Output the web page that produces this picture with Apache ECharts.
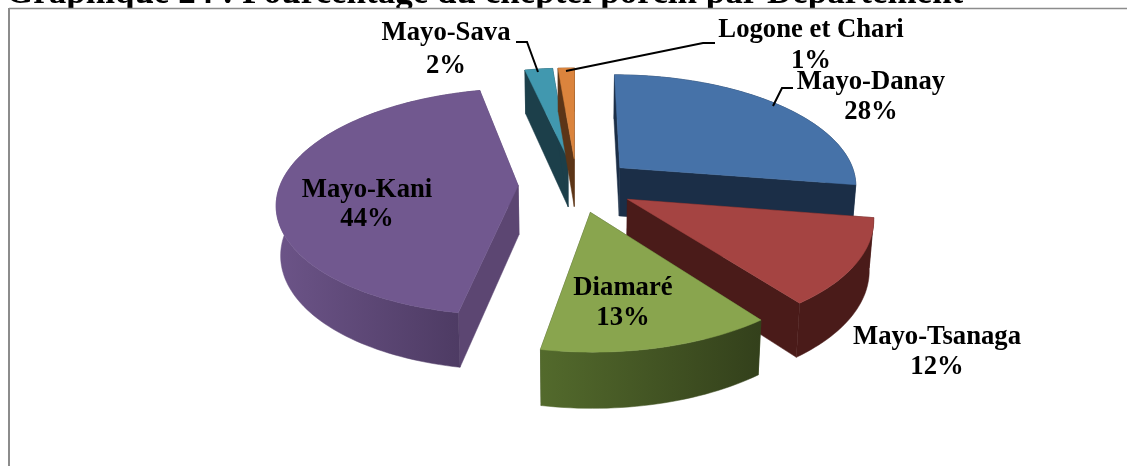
<!DOCTYPE html>
<html><head><meta charset="utf-8">
<style>html,body{margin:0;padding:0;background:#fff}#c{width:1127px;height:466px}</style>
<script src="https://cdn.jsdelivr.net/npm/echarts@6/dist/echarts.min.js"></script></head>
<body><div id="c"></div>
<script>
const titleText = 'Graphique 24 : Pourcentage du cheptel porcin par Département';
const categories = ['Mayo-Danay','Mayo-Tsanaga','Diamaré','Mayo-Kani','Mayo-Sava','Logone et Chari'];
const values = [27.5,12.2,13.2,43.6,2.2,1.3];
const topColors = ['#4672a8','#a54442','#89a54e','#71588f','#4198af','#db843d'];
const wallColors = ['#1b2e47','#4a1b19','#3a4a1e','#5c4672','#1c3f4a','#5c3517'];
const arcGradFrom = ['#1b2e47','#4a1b19','#536a2c','#6c5488','#1c3f4a','#5c3517'];
const arcGradTo   = ['#1b2e47','#4a1b19','#33401b','#4a385f','#1c3f4a','#5c3517'];
const drawOrder = [0,4,5,3,1,2];
const labelPos = [[871,82,112],[937,337,367],[623,288,318],[367,190,219],[446,33,66],[811,30,61]];
const leaders = [
  [[793,88],[782,88],[773,106]],
  null,null,null,
  [[516,42],[527,42],[538,72]],
  [[715,43],[703,43],[566,71]]
];
const G = {cx:576.5,cy:185,R:238,Ry:110.9,k:0.144,explode:0.245,H:49,startDeg:-90,fontSize:26.7};
const total = values.reduce((a,b)=>a+b,0);
const spans = []; { let a = G.startDeg; values.forEach(v=>{const d=v/total*360; spans.push([a,a+d]); a+=d;}); }
function proj(X,Y,down){
  const p = 1/(1-G.k*Y);
  let x = G.R*X*p, y = G.Ry*Y*p;
  if(down){ x*=0.985; y += G.H*Math.pow(p,0.7); }
  return [G.cx+x, G.cy+y];
}
function renderItem(params, api){
  const i = drawOrder[params.dataIndex];
  const [a0,a1] = spans[i];
  const rad = d=>d*Math.PI/180;
  const mid = rad((a0+a1)/2);
  const ox = G.explode*Math.cos(mid), oy = G.explode*Math.sin(mid);
  const pt = (d,down)=>proj(ox+Math.cos(rad(d)),oy+Math.sin(rad(d)),down);
  const apex = proj(ox,oy,false), apexD = proj(ox,oy,true);
  const n = Math.max(4,Math.ceil((a1-a0)/1.5));
  const arc=[], arcD=[];
  for(let j=0;j<=n;j++){const d=a0+(a1-a0)*j/n; arc.push(pt(d,false)); arcD.push(pt(d,true));}
  const kids = [];
  const poly=(points,fill)=>kids.push({type:'polygon',shape:{points},style:{fill,stroke:fill,lineWidth:0.5}});
  poly([apex,arc[0],arcD[0],apexD],wallColors[i]);
  poly([apex,arc[n],arcD[n],apexD],wallColors[i]);
  const gradL = new echarts.graphic.LinearGradient(0,0,1,0,[{offset:0,color:arcGradFrom[i]},{offset:1,color:arcGradTo[i]}]);
  poly(arc.concat(arcD.slice().reverse()), gradL);
  poly([apex].concat(arc),topColors[i]);
  return {type:'group',children:kids};
}
const textEls = [];
categories.forEach((c,i)=>{
  const [x,y1,y2] = labelPos[i];
  const base = {fontFamily:'Liberation Serif',fontWeight:'bold',fontSize:G.fontSize,fill:'#000',textAlign:'center',textVerticalAlign:'middle'};
  textEls.push({type:'text',z:100,style:{...base,text:c,x,y:y1}});
  textEls.push({type:'text',z:100,style:{...base,text:Math.round(values[i])+'%',x,y:y2}});
  if(leaders[i]) textEls.push({type:'polyline',z:99,shape:{points:leaders[i]},style:{stroke:'#000',lineWidth:2,fill:null}});
});
const chart = echarts.init(document.getElementById('c'),null,{renderer:'canvas'});
chart.setOption({
  animation:false,
  backgroundColor:'#fff',
  graphic:{z:50,elements:[
    {type:'text',z:-20,style:{text:titleText,x:6,y:-24,fontFamily:'Liberation Serif',fontWeight:'bold',fontSize:35,fill:'#000'}},
    {type:'rect',z:-10,shape:{x:0,y:8,width:1127,height:458},style:{fill:'#fff'}},
    {type:'line',z:-5,shape:{x1:9,y1:8.5,x2:1127,y2:8.5},style:{stroke:'#8c8c8c',lineWidth:1.5}},
    {type:'line',z:-5,shape:{x1:9,y1:8,x2:9,y2:466},style:{stroke:'#8c8c8c',lineWidth:2}},
    ...textEls
  ]},
  series:[{type:'custom',z:60,coordinateSystem:'none',renderItem,data:drawOrder.map(i=>[values[i]]),silent:true,clip:false}]
});
</script></body></html>
